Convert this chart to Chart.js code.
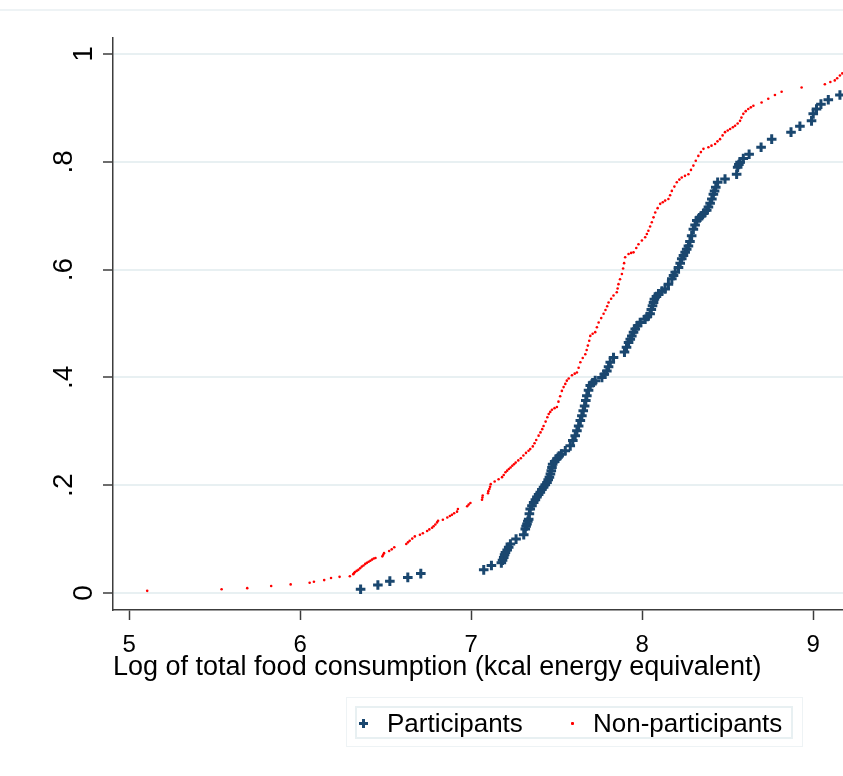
<!DOCTYPE html>
<html>
<head>
<meta charset="utf-8">
<script src="https://cdn.jsdelivr.net/npm/chart.js@4.4.1/dist/chart.umd.min.js"></script>
<style>
  body { margin: 0; background: #fff; }
  #wrap { position: relative; width: 843px; height: 776px; font-family: Arial, "Liberation Sans", sans-serif; }
  #topline { position: absolute; left: 0; top: 9px; width: 843px; height: 2px; background: #eef3f5; }
  .box { position: absolute; box-sizing: border-box; }
  .lbl { position: absolute; font-size: 26px; line-height: 26px; color: #000; white-space: nowrap; }
  .bar { position: absolute; background: #1a476f; }
</style>
</head>
<body>
<div id="wrap">
  <div id="topline"></div>
  <canvas id="cdf" width="843" height="776"></canvas>
  <div class="box" style="left:346px;top:697px;width:457px;height:50px;border:1px solid #eef3f5;"></div>
  <div class="box" style="left:355px;top:706px;width:438px;height:33px;border:2px solid #e8f0f2;"></div>
  <div class="bar" style="left:359px;top:722px;width:9px;height:2.5px;"></div>
  <div class="bar" style="left:362.3px;top:718.6px;width:2.5px;height:9px;"></div>
  <span class="lbl" style="left:387px;top:710px;">Participants</span>
  <div class="box" style="left:571px;top:721.5px;width:2.5px;height:3px;background:#ff0000;border-radius:1px;"></div>
  <span class="lbl" style="left:593px;top:710px;">Non-participants</span>
</div>
<script>
// x = log of total food consumption, y = cumulative share
const xTicks = [5, 6, 7, 8, 9]
const yTicks = [0, 0.2, 0.4, 0.6, 0.8, 1]
const yTickLabels = ['0', '.2', '.4', '.6', '.8', '1']

const partX = [6.353, 6.454, 6.524, 6.629, 6.705, 7.073, 7.118, 7.176, 7.183, 7.19, 7.195, 7.20, 7.21, 7.219, 7.229, 7.262, 7.307, 7.316, 7.321, 7.326,
  7.331, 7.336, 7.340, 7.345, 7.355, 7.365, 7.375, 7.384, 7.394, 7.404, 7.413, 7.423, 7.433, 7.443, 7.45, 7.457, 7.463, 7.468, 7.472, 7.476,
  7.488, 7.501, 7.514, 7.527, 7.55, 7.579, 7.594, 7.608, 7.618, 7.628, 7.638, 7.647, 7.655, 7.663, 7.67, 7.676, 7.686, 7.696, 7.71, 7.725,
  7.764, 7.778, 7.793, 7.803, 7.813, 7.832, 7.896, 7.908, 7.920, 7.93, 7.939, 7.949, 7.959, 7.973, 7.988, 8.017, 8.03, 8.046, 8.053, 8.06,
  8.066, 8.071, 8.083, 8.095, 8.115, 8.134, 8.153, 8.173, 8.183, 8.193, 8.212, 8.222, 8.231, 8.241, 8.251, 8.260, 8.270, 8.279, 8.289, 8.299,
  8.309, 8.319, 8.334, 8.348, 8.362, 8.377, 8.387, 8.397, 8.407, 8.416, 8.423, 8.430, 8.441, 8.484, 8.552, 8.558, 8.565, 8.572, 8.591, 8.625,
  8.695, 8.757, 8.870, 8.922, 8.990, 9.0, 9.019, 9.045, 9.088, 9.156]
const partY = [0.007, 0.015, 0.022, 0.029, 0.036, 0.043, 0.051, 0.056, 0.061, 0.066, 0.071, 0.075, 0.080, 0.085, 0.091, 0.100, 0.108, 0.119, 0.124, 0.128,
  0.133, 0.137, 0.147, 0.156, 0.162, 0.168, 0.173, 0.178, 0.183, 0.187, 0.192, 0.196, 0.201, 0.205, 0.210, 0.215, 0.221, 0.227, 0.233, 0.239,
  0.244, 0.249, 0.254, 0.258, 0.264, 0.273, 0.283, 0.292, 0.301, 0.310, 0.320, 0.329, 0.338, 0.347, 0.357, 0.366, 0.376, 0.385, 0.390, 0.394,
  0.400, 0.406, 0.412, 0.420, 0.428, 0.437, 0.447, 0.456, 0.465, 0.471, 0.477, 0.484, 0.490, 0.496, 0.502, 0.508, 0.513, 0.518, 0.526, 0.533,
  0.539, 0.545, 0.550, 0.555, 0.560, 0.564, 0.573, 0.583, 0.589, 0.595, 0.604, 0.612, 0.620, 0.626, 0.632, 0.638, 0.644, 0.652, 0.663, 0.675,
  0.683, 0.691, 0.696, 0.700, 0.705, 0.710, 0.716, 0.723, 0.731, 0.740, 0.746, 0.753, 0.762, 0.768, 0.777, 0.790, 0.795, 0.799, 0.806, 0.814,
  0.827, 0.842, 0.855, 0.866, 0.876, 0.889, 0.898, 0.907, 0.915, 0.924]

const nonX = [5.105, 5.54, 5.69, 5.83, 5.944, 6.055, 6.08, 6.14, 6.18, 6.23, 6.29, 6.31, 6.315, 6.32, 6.33, 6.34, 6.35, 6.36, 6.37, 6.38,
  6.39, 6.40, 6.41, 6.42, 6.43, 6.44, 6.48, 6.485, 6.49, 6.52, 6.535, 6.55, 6.62, 6.63, 6.64, 6.655, 6.67, 6.70, 6.717, 6.742,
  6.755, 6.771, 6.78, 6.79, 6.80, 6.806, 6.834, 6.86, 6.875, 6.887, 6.90, 6.917, 6.922, 6.976, 6.985, 6.995, 7.063, 7.065, 7.067, 7.098,
  7.10, 7.106, 7.11, 7.114, 7.137, 7.16, 7.18, 7.19, 7.20, 7.21, 7.22, 7.23, 7.24, 7.25, 7.26, 7.275, 7.29, 7.305, 7.32, 7.335,
  7.345, 7.36, 7.37, 7.38, 7.394, 7.405, 7.415, 7.423, 7.435, 7.445, 7.453, 7.462, 7.472, 7.487, 7.501, 7.51, 7.52, 7.530, 7.54, 7.55,
  7.559, 7.57, 7.589, 7.605, 7.618, 7.628, 7.638, 7.652, 7.667, 7.675, 7.682, 7.69, 7.696, 7.71, 7.725, 7.735, 7.745, 7.76, 7.774, 7.785,
  7.795, 7.803, 7.818, 7.832, 7.851, 7.856, 7.861, 7.87, 7.881, 7.888, 7.894, 7.900, 7.920, 7.935, 7.949, 7.965, 7.978, 7.998, 8.017, 8.027,
  8.036, 8.046, 8.056, 8.066, 8.076, 8.09, 8.105, 8.12, 8.134, 8.153, 8.163, 8.173, 8.188, 8.202, 8.217, 8.231, 8.25, 8.270, 8.285, 8.299,
  8.313, 8.328, 8.343, 8.358, 8.387, 8.405, 8.426, 8.44, 8.455, 8.47, 8.484, 8.50, 8.514, 8.53, 8.543, 8.558, 8.572, 8.58, 8.591, 8.605,
  8.620, 8.635, 8.650, 8.698, 8.737, 8.776, 8.815, 8.932, 9.068, 9.10, 9.126, 9.14, 9.156, 9.17]
const nonY = [0.004, 0.007, 0.009, 0.013, 0.016, 0.019, 0.021, 0.024, 0.028, 0.030, 0.031, 0.035, 0.037, 0.039, 0.041, 0.043, 0.046, 0.049, 0.051, 0.054,
  0.056, 0.058, 0.060, 0.062, 0.064, 0.065, 0.068, 0.071, 0.074, 0.078, 0.081, 0.085, 0.091, 0.094, 0.097, 0.101, 0.105, 0.108, 0.111, 0.115,
  0.118, 0.121, 0.124, 0.127, 0.131, 0.134, 0.136, 0.140, 0.143, 0.145, 0.148, 0.151, 0.156, 0.161, 0.164, 0.167, 0.173, 0.177, 0.181, 0.185,
  0.189, 0.193, 0.197, 0.202, 0.207, 0.211, 0.215, 0.219, 0.224, 0.227, 0.230, 0.233, 0.236, 0.239, 0.242, 0.246, 0.250, 0.255, 0.260, 0.264,
  0.267, 0.272, 0.278, 0.284, 0.292, 0.298, 0.304, 0.310, 0.318, 0.326, 0.332, 0.336, 0.340, 0.343, 0.345, 0.355, 0.365, 0.375, 0.382, 0.388,
  0.394, 0.398, 0.404, 0.407, 0.409, 0.418, 0.428, 0.436, 0.443, 0.451, 0.459, 0.468, 0.477, 0.481, 0.484, 0.493, 0.502, 0.510, 0.518, 0.525,
  0.532, 0.539, 0.546, 0.552, 0.558, 0.565, 0.573, 0.582, 0.592, 0.602, 0.612, 0.623, 0.629, 0.631, 0.632, 0.640, 0.647, 0.654, 0.660, 0.666,
  0.672, 0.680, 0.688, 0.697, 0.706, 0.714, 0.722, 0.725, 0.728, 0.731, 0.738, 0.746, 0.754, 0.762, 0.767, 0.771, 0.774, 0.777, 0.785, 0.793,
  0.802, 0.811, 0.818, 0.824, 0.827, 0.830, 0.833, 0.838, 0.842, 0.849, 0.855, 0.858, 0.861, 0.864, 0.867, 0.871, 0.876, 0.882, 0.889, 0.894,
  0.898, 0.901, 0.904, 0.910, 0.917, 0.924, 0.930, 0.938, 0.944, 0.948, 0.951, 0.955, 0.960, 0.964]

function toPoints(xs, ys){
    let pts = []
    for(let i=0; i<xs.length; i++){
        pts.push({x: xs[i], y: ys[i]})
    }
    return pts
}

const fontFam = 'Arial, "Liberation Sans", sans-serif'
const axisCol = '#3c3c3c'

// stata style y labels: turned 90 degrees and centred on the tick
const yLabelPlugin = {
    id: 'yLabels',
    afterDraw(chart){
        const s = chart.scales.y
        const c = chart.ctx
        c.save()
        c.fillStyle = '#000'
        c.font = '28px ' + fontFam
        c.textAlign = 'center'
        c.textBaseline = 'alphabetic'
        for(let i=0; i<yTicks.length; i++){
            const lab = yTickLabels[i]
            const bx = s.right - (lab.length > 1 ? 41 : 21)
            c.save()
            c.translate(bx, s.getPixelForValue(yTicks[i]))
            c.rotate(-Math.PI / 2)
            c.fillText(lab, 0, 0)
            c.restore()
        }
        c.restore()
    }
}

const ctx = document.getElementById('cdf').getContext('2d')
const cdfChart = new Chart(ctx, {
    type: 'scatter',
    data: {
        datasets: [{
            label: 'Participants',
            data: toPoints(partX, partY),
            pointStyle: 'cross',
            pointRadius: 4.8,
            borderColor: '#1a476f',
            backgroundColor: '#1a476f',
            pointBorderWidth: 3
        },
        {
            label: 'Non-participants',
            data: toPoints(nonX, nonY),
            pointStyle: 'circle',
            pointRadius: 1.3,
            borderWidth: 0,
            pointBorderWidth: 0,
            borderColor: '#ff0000',
            backgroundColor: '#ff0000'
        }]
    },
    options: {
        responsive: false,
        animation: false,
        layout: { autoPadding: false, padding: { top: 38, right: 0, bottom: 0, left: 0 } },
        plugins: {
            legend: { display: false },
            tooltip: { enabled: false }
        },
        scales: {
            x: {
                type: 'linear',
                min: 4.905,
                max: 9.174,
                afterBuildTicks: (s) => { s.ticks = xTicks.map(v => ({ value: v })) },
                afterFit: (s) => { s.height = 166; s.paddingLeft = 0; s.paddingRight = 0 },
                grid: { drawOnChartArea: false, drawTicks: true, tickLength: 10, tickColor: axisCol, tickWidth: 1.5 },
                border: { color: axisCol, width: 1.5 },
                ticks: { color: '#000', padding: 11, maxRotation: 0, font: { family: fontFam, size: 24 } },
                title: {
                    display: true,
                    text: 'Log of total food consumption (kcal energy equivalent)',
                    align: 'start',
                    color: '#000',
                    font: { family: fontFam, size: 27 },
                    padding: { top: 0, bottom: 92 }
                }
            },
            y: {
                type: 'linear',
                min: -0.0315,
                max: 1.0297,
                afterBuildTicks: (s) => { s.ticks = yTicks.map(v => ({ value: v })) },
                afterFit: (s) => { s.width = 113; s.paddingTop = 0; s.paddingBottom = 0 },
                grid: { color: '#e8f0f2', lineWidth: 2, drawTicks: true, tickLength: 10, tickColor: axisCol, tickWidth: 1.5 },
                border: { color: axisCol, width: 1.5 },
                ticks: { display: false }
            }
        }
    },
    plugins: [yLabelPlugin]
})
</script>
</body>
</html>
